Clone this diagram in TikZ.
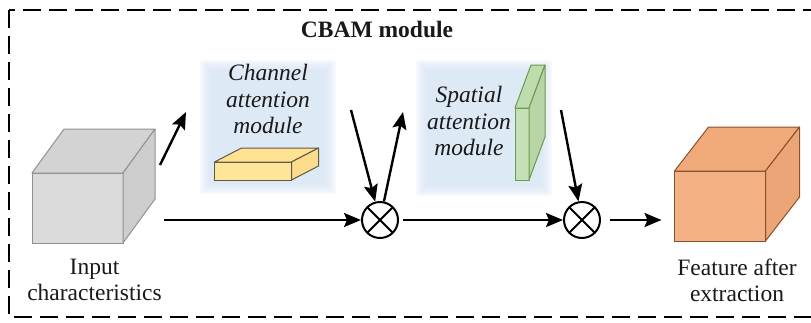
\documentclass[tikz,border=0pt]{standalone}
\usepackage{fontspec}
\setmainfont{Liberation Serif}
\usetikzlibrary{arrows.meta,calc,positioning}
\definecolor{attbg}{RGB}{210,225,243}
\definecolor{grayfr}{RGB}{219,219,219}
\definecolor{graytp}{RGB}{211,211,211}
\definecolor{graysd}{RGB}{205,205,205}
\definecolor{grayln}{RGB}{145,145,145}
\definecolor{yelfr}{RGB}{255,229,153}
\definecolor{yeltp}{RGB}{255,226,145}
\definecolor{yelsd}{RGB}{250,220,138}
\definecolor{yelln}{RGB}{95,88,70}
\definecolor{grnfr}{RGB}{197,224,180}
\definecolor{grntp}{RGB}{190,220,172}
\definecolor{grnsd}{RGB}{184,214,165}
\definecolor{grnln}{RGB}{105,155,80}
\definecolor{orgfr}{RGB}{244,177,131}
\definecolor{orgtp}{RGB}{240,170,122}
\definecolor{orgsd}{RGB}{236,165,118}
\definecolor{orgln}{RGB}{135,80,45}
\definecolor{txt}{RGB}{25,25,25}
\tikzstyle{face}=[draw,line width=1pt,outer sep=0pt,inner sep=0pt]
\tikzstyle{mult}=[circle,draw,line width=2pt,minimum size=36pt,inner sep=0pt,
  fill=white,path picture={\draw[line width=2pt]
    (path picture bounding box.north east) -- (path picture bounding box.south west)
    (path picture bounding box.north west) -- (path picture bounding box.south east);}]
\tikzstyle{lbl}=[align=center,inner sep=0pt,text=txt,
  font=\fontsize{23.5}{26}\selectfont]
\tikzstyle{ital}=[lbl,font=\fontsize{23.5}{26.5}\selectfont\itshape]
\tikzstyle{flow}=[->,line width=2.4pt]

\begin{document}
\begin{tikzpicture}[x=1pt, y=-1pt, >={Stealth[length=17pt,width=14pt,inset=3pt]}]
  \useasboundingbox (0,0) rectangle (811,322);
  \draw[line width=2pt, dash pattern=on 18pt off 8pt] (9,10) rectangle (836,317);

  % soft panels behind the two attention modules
  \foreach \i in {0,...,5} {
    \fill[attbg, opacity=.2] ($(200,60)+(2*\i,2*\i)$) rectangle ($(336,194)-(2*\i,2*\i)$);
    \fill[attbg, opacity=.2] ($(416,60)+(2*\i,2*\i)$) rectangle ($(552,196)-(2*\i,2*\i)$);
  }

  \node[lbl, font=\fontsize{23.5}{26}\selectfont\bfseries, anchor=base] (title) at (377,37) {CBAM module};
  \node[ital, anchor=north] (catxt) at (268,64) {Channel\\attention\\module};
  \node[ital, anchor=north] (satxt) at (469,86) {Spatial\\attention\\module};

  % feature blocks (front faces)
  \node[face, draw=grayln, fill=grayfr, minimum width=91pt, minimum height=70pt] (inp) at (77.5,208) {};
  \node[face, draw=yelln, fill=yelfr, minimum width=77pt, minimum height=18pt] (cab) at (253,171) {};
  \node[face, draw=grnln, fill=grnfr, minimum width=14pt, minimum height=72pt] (sab) at (522,144) {};
  \node[face, draw=orgln, fill=orgfr, minimum width=91pt, minimum height=70pt] (out) at (720,206) {};

  \foreach \n/\dx/\dy/\ct/\cs/\ce in {inp/32/44/graytp/graysd/grayln,
      cab/27/14/yeltp/yelsd/yelln, sab/16/43/grntp/grnsd/grnln, out/34/44/orgtp/orgsd/orgln} {
    \draw[\ce, fill=\ct, line width=1pt, line join=round] (\n.north west) -- ++(\dx,-\dy)
      -- ($(\n.north east)+(\dx,-\dy)$) -- (\n.north east) -- cycle;
    \draw[\ce, fill=\cs, line width=1pt, line join=round] (\n.north east) -- ++(\dx,-\dy)
      -- ($(\n.south east)+(\dx,-\dy)$) -- (\n.south east) -- cycle;
  }

  \node[lbl, below=16pt of inp, xshift=17pt] (inlbl) {Input\\characteristics};
  \node[lbl, below=18pt of out, xshift=17pt] (outlbl) {Feature after\\extraction};

  \node[mult] (m1) at (380,220) {};
  \node[mult] (m2) at (582,220) {};

  \coordinate (a0) at (160,165);
  \coordinate (a1) at (186,112);
  \coordinate (h0) at (164,220);
  \coordinate (d1) at (351,110);
  \coordinate (u1) at (403,112);
  \coordinate (d2) at (561,110);

  \draw[flow] (a0) -- (a1);
  \draw[flow] (h0) -- (m1);
  \draw[flow] (d1) -- (m1);
  \draw[flow] (m1) -- (u1);
  \draw[flow, shorten <=4pt] (m1) -- (m2);
  \draw[flow] (d2) -- (m2);
  \draw[flow, shorten <=9pt, shorten >=13pt] (m2) -- (m2 -| out.west);
\end{tikzpicture}
\end{document}
